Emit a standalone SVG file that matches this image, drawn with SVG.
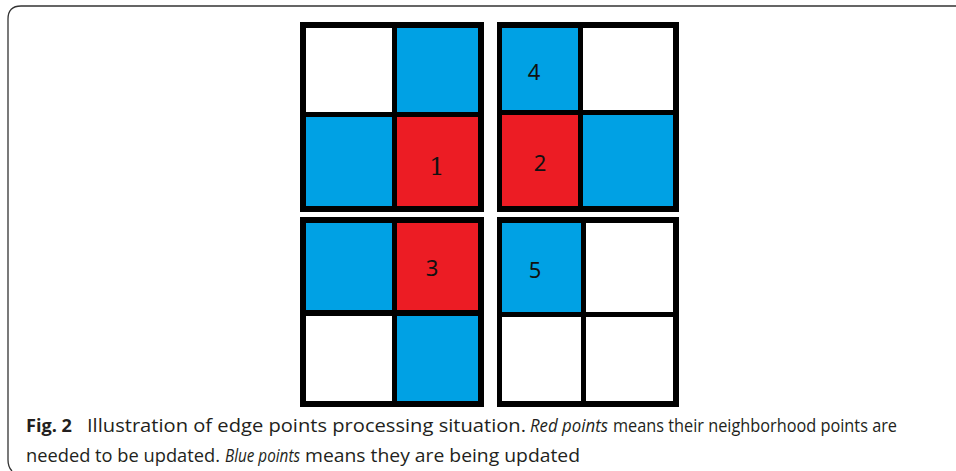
<svg xmlns="http://www.w3.org/2000/svg" width="956" height="471" viewBox="0 0 956 471">
<style>
.frame{fill:#000}
.w{fill:#fff}
.b{fill:#00A1E4}
.r{fill:#EC1C24}
.lbl{font-family:"Noto Sans","Open Sans",sans-serif;font-size:22px;fill:#111;text-anchor:middle}
.one{font-family:"DejaVu Serif","Liberation Serif",serif;font-size:24px;fill:#111;text-anchor:middle}
.cap{font-family:"Open Sans","Noto Sans",sans-serif;font-size:18px;fill:#231f20}
.bd{font-weight:bold}
.it{font-style:italic}
.border{fill:none;stroke:#333;stroke-width:1.3}
</style>
<rect width="956" height="471" fill="#fff"/>
<path class="border" d="M12 471 Q8 467 8 460 L8 19 Q8 6 21 6 L956 6"/>
<g id="block1">
<rect class="frame" x="300" y="22" width="184" height="190"/>
<rect class="w" x="306" y="28" width="86" height="84"/>
<rect class="b" x="397" y="28" width="81" height="84"/>
<rect class="b" x="306" y="117" width="86" height="89"/>
<rect class="r" x="397" y="117" width="81" height="89"/>
<text class="one" x="437" y="175">1</text>
</g>
<g id="block2">
<rect class="frame" x="497" y="22" width="182" height="190"/>
<rect class="b" x="502" y="28" width="76" height="82"/>
<rect class="w" x="583" y="28" width="90" height="82"/>
<rect class="r" x="502" y="115" width="76" height="91"/>
<rect class="b" x="583" y="115" width="90" height="91"/>
<text class="lbl" x="534" y="80">4</text>
<text class="lbl" x="540" y="171">2</text>
</g>
<g id="block3">
<rect class="frame" x="300" y="217" width="184" height="190"/>
<rect class="b" x="306" y="223" width="86" height="87"/>
<rect class="r" x="397" y="223" width="81" height="87"/>
<rect class="w" x="306" y="316" width="86" height="85"/>
<rect class="b" x="397" y="316" width="81" height="85"/>
<text class="lbl" x="432" y="276">3</text>
</g>
<g id="block4">
<rect class="frame" x="497" y="217" width="182" height="190"/>
<rect class="b" x="502" y="223" width="79" height="89"/>
<rect class="w" x="586" y="223" width="87" height="89"/>
<rect class="w" x="502" y="317" width="79" height="84"/>
<rect class="w" x="586" y="317" width="87" height="84"/>
<text class="lbl" x="535" y="278">5</text>
</g>
<g id="caption">
<text class="cap bd" x="26" y="432" textLength="46" lengthAdjust="spacingAndGlyphs">Fig. 2</text>
<text class="cap" x="87" y="432" textLength="439" lengthAdjust="spacingAndGlyphs">Illustration of edge points processing situation.</text>
<text class="cap it" x="530" y="432" textLength="78" lengthAdjust="spacingAndGlyphs">Red points</text>
<text class="cap" x="613" y="432" textLength="284" lengthAdjust="spacingAndGlyphs">means their neighborhood points are</text>
<text class="cap" x="26" y="462" textLength="194" lengthAdjust="spacingAndGlyphs">needed to be updated.</text>
<text class="cap it" x="225" y="462" textLength="75" lengthAdjust="spacingAndGlyphs">Blue points</text>
<text class="cap" x="305" y="462" textLength="275" lengthAdjust="spacingAndGlyphs">means they are being updated</text>
</g>
</svg>
